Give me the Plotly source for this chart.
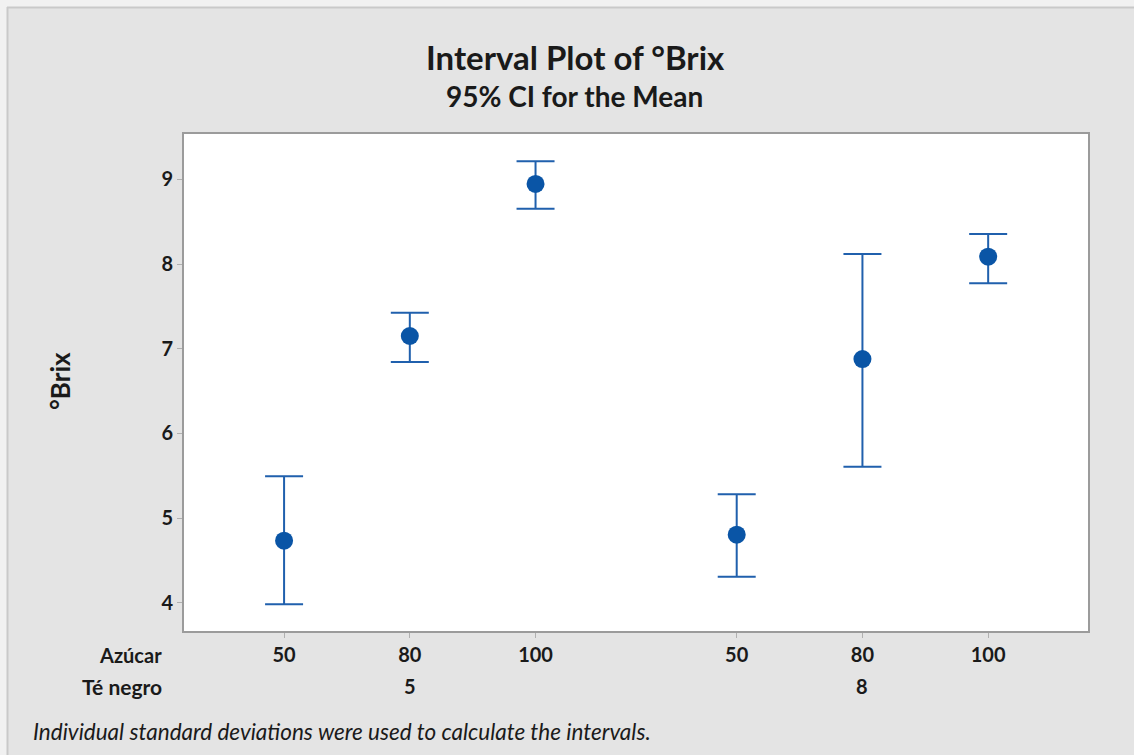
import plotly.graph_objects as go

# Data
te_negro = ["5", "8"]
azucar = ["50", "80", "100"]
means = [4.733, 7.150, 8.945, 4.804, 6.878, 8.086]
upper = [5.493, 7.425, 9.212, 5.281, 8.118, 8.354]
lower = [3.982, 6.843, 8.653, 4.308, 5.607, 7.772]
y_ticks = [4, 5, 6, 7, 8, 9]

W, H = 1134, 755
L, R, T, B = 184, 46, 134, 124
PW, PH = W - L - R, H - T - B

def px(xp):
    return (xp - L) / PW

def py(yp):
    return (H - B - yp) / PH

GROUP_GAP = 0.6
xpos = []
xlab = []
for g, _ in enumerate(te_negro):
    for i, a in enumerate(azucar):
        xpos.append(g * (len(azucar) + GROUP_GAP) + i)
        xlab.append(a)

err_plus = [u - m for u, m in zip(upper, means)]
err_minus = [m - l for m, l in zip(means, lower)]

FONT = "Lato"
TXT = "#1a1a1a"
TICK = 20

fig = go.Figure()
fig.add_trace(go.Scatter(
    x=xpos, y=means, mode="markers",
    marker=dict(size=18, color="#0A55A6"),
    error_y=dict(type="data", symmetric=False, array=err_plus, arrayminus=err_minus,
                 color="#2060AD", thickness=2, width=19),
    showlegend=False, hoverinfo="y",
))

axis_line = "#9B9B9B"
fig.update_layout(
    width=W, height=H,
    margin=dict(l=L, r=R, t=T, b=B, pad=0),
    paper_bgcolor="#E4E4E4",
    plot_bgcolor="white",
    font=dict(family=FONT, color=TXT),
    xaxis=dict(range=[-0.796, 6.394], tickvals=xpos, ticktext=xlab,
               showgrid=False, zeroline=False, showline=True, mirror=True,
               linecolor=axis_line, linewidth=2, ticks="outside", ticklen=5,
               tickcolor="#B0B0B0", tickwidth=1,
               tickfont=dict(size=TICK, family=FONT, weight="bold", color=TXT)),
    yaxis=dict(range=[3.667, 9.535], tickvals=y_ticks,
               showgrid=False, zeroline=False, showline=True, mirror=True,
               linecolor=axis_line, linewidth=2, ticks="outside", ticklen=5,
               tickcolor="#B0B0B0", tickwidth=1,
               tickfont=dict(size=TICK, family=FONT, weight="bold", color=TXT)),
)

ann = []
ann.append(dict(text="Interval Plot of °Brix", x=px(575), y=py(57), xref="paper", yref="paper",
                xanchor="center", yanchor="middle", showarrow=False,
                font=dict(size=33, family=FONT, weight="bold", color=TXT)))
ann.append(dict(text="95% CI for the Mean", x=px(574), y=py(96), xref="paper", yref="paper",
                xanchor="center", yanchor="middle", showarrow=False,
                font=dict(size=28, family=FONT, weight="bold", color=TXT)))
ann.append(dict(text="°Brix", x=px(60), y=py(381), xref="paper", yref="paper",
                xanchor="center", yanchor="middle", showarrow=False, textangle=-90,
                font=dict(size=26, family=FONT, weight="bold", color=TXT)))
ann.append(dict(text="Azúcar", x=px(164), y=py(655), xref="paper", yref="paper",
                xanchor="right", yanchor="middle", showarrow=False,
                font=dict(size=TICK, family=FONT, weight="bold", color=TXT)))
ann.append(dict(text="Té negro", x=px(164), y=py(686), xref="paper", yref="paper",
                xanchor="right", yanchor="middle", showarrow=False,
                font=dict(size=21, family=FONT, weight="bold", color=TXT)))
for g, t in enumerate(te_negro):
    mid = xpos[g * len(azucar) + len(azucar) // 2]
    ann.append(dict(text=t, x=mid, y=py(686), xref="x", yref="paper",
                    xanchor="center", yanchor="middle", showarrow=False,
                    font=dict(size=TICK, family=FONT, weight="bold", color=TXT)))
ann.append(dict(text="<i>Individual standard deviations were used to calculate the intervals.</i>",
                x=px(31), y=py(731), xref="paper", yref="paper",
                xanchor="left", yanchor="middle", showarrow=False,
                font=dict(size=22.5, family=FONT, color=TXT)))
fig.update_layout(annotations=ann)

shapes = [
    dict(type="rect", xref="paper", yref="paper", x0=px(0), x1=px(W), y0=py(0), y1=py(7),
         fillcolor="#F1F1F1", line=dict(width=0), layer="below"),
    dict(type="rect", xref="paper", yref="paper", x0=px(0), x1=px(7), y0=py(0), y1=py(H),
         fillcolor="#F1F1F1", line=dict(width=0), layer="below"),
    dict(type="line", xref="paper", yref="paper", x0=px(7), x1=px(W), y0=py(7.5), y1=py(7.5),
         line=dict(color="#C9C9C9", width=2), layer="below"),
    dict(type="line", xref="paper", yref="paper", x0=px(7.5), x1=px(7.5), y0=py(7), y1=py(H),
         line=dict(color="#C9C9C9", width=2), layer="below"),
]
fig.update_layout(shapes=shapes)

fig.write_html("out.html")
